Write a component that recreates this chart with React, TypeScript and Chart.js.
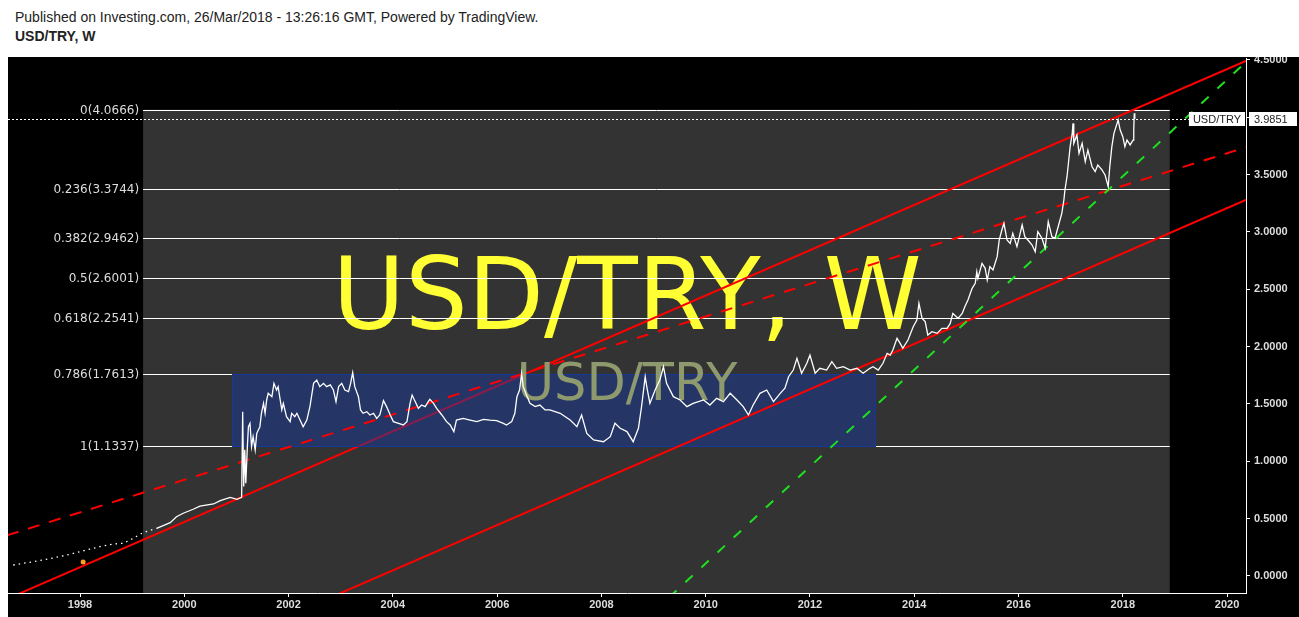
import React, { useEffect, useRef } from "react";
import { Chart, registerables } from "chart.js";

Chart.register(...registerables);

const SYMBOL = "USD/TRY";
const INTERVAL = "W";
const LAST_PRICE = 3.9851;

// Axis ticks
const yearTicks = [1998, 2000, 2002, 2004, 2006, 2008, 2010, 2012, 2014, 2016, 2018, 2020];
const priceTicks = [0, 0.5, 1, 1.5, 2, 2.5, 3, 3.5, 4, 4.5];

// Fibonacci retracement levels
const fibRatios = ["0", "0.236", "0.382", "0.5", "0.618", "0.786", "1"];
const fibLevels = [4.0666, 3.3744, 2.9462, 2.6001, 2.2541, 1.7613, 1.1337];
const fibYears = [1999.21, 2018.9];

// Consolidation box
const boxYears = [2000.915, 2013.247];
const boxPrices = [1.1337, 1.7613];

// Trend lines (two anchors each)
const upperChannelYears = [1996.6, 2020.4];
const upperChannelPrices = [-0.2, 4.5];
const lowerChannelYears = [2002.8, 2020.4];
const lowerChannelPrices = [-0.188, 3.287];
const midChannelYears = [1996.6, 2020.4];
const midChannelPrices = [0.355, 3.744];
const fanYears = [2009.3, 2020.4];
const fanPrices = [-0.186, 4.498];

// Event marker
const markerYears = [1998.06];
const markerPrices = [0.122];

// Sparse early quotes
const earlyYears = [1996.72, 1997.3, 1997.75, 1998.0, 1998.38, 1998.64, 1998.83, 1999.02, 1999.21, 1999.47];
const earlyPrices = [0.096, 0.14, 0.183, 0.212, 0.256, 0.279, 0.285, 0.328, 0.378, 0.416];

// Weekly closes
const weekYears = [
  1999.47, 1999.73, 1999.85, 1999.98, 2000.17, 2000.3, 2000.56, 2000.69, 2000.88, 2001.01, 2001.1, 2001.12,
  2001.14, 2001.16, 2001.18, 2001.21, 2001.23, 2001.26, 2001.29, 2001.32, 2001.36, 2001.39, 2001.45, 2001.48,
  2001.52, 2001.55, 2001.58, 2001.61, 2001.68, 2001.72, 2001.77, 2001.8, 2001.84, 2001.87, 2001.9, 2001.96,
  2002.03, 2002.06, 2002.12, 2002.16, 2002.22, 2002.28, 2002.35, 2002.41, 2002.44, 2002.48, 2002.54, 2002.6,
  2002.67, 2002.73, 2002.8, 2002.86, 2002.91, 2002.96, 2003.02, 2003.08, 2003.15, 2003.19, 2003.23, 2003.27,
  2003.34, 2003.38, 2003.43, 2003.5, 2003.56, 2003.63, 2003.69, 2003.75, 2003.82, 2003.88, 2003.95,
  2004.01, 2004.11, 2004.2, 2004.27, 2004.33, 2004.37, 2004.43, 2004.49, 2004.55, 2004.62, 2004.68, 2004.71,
  2004.78, 2004.84, 2004.94, 2005.03, 2005.1, 2005.17, 2005.22, 2005.35, 2005.48, 2005.61, 2005.74, 2005.86,
  2005.99, 2006.12, 2006.18, 2006.28, 2006.34, 2006.38, 2006.43, 2006.47, 2006.5, 2006.55, 2006.63, 2006.73,
  2006.82, 2006.92,
  2007.01, 2007.21, 2007.4, 2007.53, 2007.62, 2007.72, 2007.85, 2008.04, 2008.17, 2008.26, 2008.36, 2008.49,
  2008.61, 2008.71, 2008.77, 2008.84, 2008.87, 2008.93, 2009.03, 2009.12, 2009.19, 2009.25, 2009.38, 2009.51,
  2009.64, 2009.76, 2009.96, 2010.08, 2010.21, 2010.34, 2010.47, 2010.6, 2010.72, 2010.82, 2010.91,
  2011.04, 2011.17, 2011.3, 2011.43, 2011.52, 2011.59, 2011.68, 2011.75, 2011.84, 2011.94, 2012.0, 2012.1,
  2012.19, 2012.32, 2012.42, 2012.51, 2012.64, 2012.77, 2012.9, 2013.02, 2013.15, 2013.21, 2013.31, 2013.4,
  2013.48, 2013.54, 2013.59, 2013.67, 2013.73, 2013.78, 2013.88, 2013.98,
  2014.05, 2014.09, 2014.15, 2014.21, 2014.26, 2014.34, 2014.44, 2014.53, 2014.63, 2014.69, 2014.74, 2014.84,
  2014.92, 2014.97, 2015.03, 2015.11, 2015.17, 2015.2, 2015.22, 2015.3, 2015.36, 2015.4, 2015.45, 2015.51,
  2015.59, 2015.63, 2015.68, 2015.72, 2015.78, 2015.84, 2015.89, 2015.97, 2016.07, 2016.12, 2016.18, 2016.26,
  2016.32, 2016.37, 2016.45, 2016.51, 2016.57, 2016.64, 2016.7, 2016.76, 2016.83, 2016.87, 2016.89, 2016.93,
  2016.95, 2016.99,
  2017.03, 2017.045, 2017.06, 2017.12, 2017.16, 2017.22, 2017.28, 2017.33, 2017.41, 2017.47, 2017.52, 2017.6,
  2017.66, 2017.72, 2017.75, 2017.79, 2017.83, 2017.89, 2017.91, 2017.95, 2018.0, 2018.04, 2018.08, 2018.14,
  2018.2, 2018.21, 2018.22, 2018.23,
];
const weekPrices = [
  0.416, 0.465, 0.517, 0.547, 0.582, 0.61, 0.628, 0.657, 0.686, 0.669, 0.686, 1.433,
  0.78, 1.1, 0.808, 1.128, 1.302, 1.331, 1.128, 1.215, 1.099, 1.244, 1.302, 1.419,
  1.506, 1.419, 1.535, 1.593, 1.564, 1.68, 1.622, 1.651, 1.535, 1.448, 1.506, 1.39,
  1.346, 1.419, 1.39, 1.419, 1.36, 1.302, 1.36, 1.477, 1.564, 1.68, 1.709, 1.651,
  1.68, 1.651, 1.666, 1.622, 1.52, 1.651, 1.68, 1.622, 1.608, 1.68, 1.773, 1.651,
  1.564, 1.448, 1.419, 1.433, 1.404, 1.419, 1.375, 1.404, 1.529, 1.477, 1.404,
  1.346, 1.331, 1.317, 1.346, 1.506, 1.578, 1.52, 1.462, 1.491, 1.477, 1.52, 1.541,
  1.506, 1.462, 1.404, 1.346, 1.317, 1.259, 1.36, 1.375, 1.36, 1.346, 1.366, 1.36,
  1.355, 1.331, 1.317, 1.346, 1.419, 1.564, 1.622, 1.767, 1.651, 1.593, 1.506, 1.477,
  1.491, 1.448,
  1.448, 1.419, 1.36, 1.302, 1.404, 1.244, 1.186, 1.171, 1.215, 1.332, 1.288, 1.259,
  1.171, 1.288, 1.477, 1.738, 1.651, 1.506, 1.622, 1.709, 1.825, 1.68, 1.564, 1.535,
  1.477, 1.506, 1.535, 1.491, 1.549, 1.52, 1.593, 1.535, 1.477, 1.404, 1.491,
  1.593, 1.622, 1.52, 1.593, 1.637, 1.738, 1.796, 1.898, 1.768, 1.855, 1.927, 1.768,
  1.811, 1.796, 1.869, 1.811, 1.825, 1.796, 1.811, 1.768, 1.811, 1.825, 1.796, 1.855,
  1.942, 1.927, 1.971, 2.073, 2.029, 1.986, 2.058, 2.174,
  2.232, 2.378, 2.247, 2.218, 2.102, 2.131, 2.116, 2.16, 2.16, 2.203, 2.29, 2.247,
  2.29, 2.348, 2.407, 2.509, 2.552, 2.654, 2.596, 2.727, 2.683, 2.581, 2.698, 2.669,
  2.785, 2.93, 3.017, 3.076, 2.93, 2.901, 2.988, 2.872, 3.061, 2.959, 2.93, 2.886,
  2.828, 3.003, 2.945, 2.858, 3.09, 2.959, 2.945, 3.046, 3.163, 3.279, 3.366, 3.482,
  3.569, 3.744,
  3.86, 3.947, 3.773, 3.846, 3.686, 3.773, 3.613, 3.715, 3.569, 3.526, 3.584, 3.541,
  3.497, 3.395, 3.569, 3.744, 3.86, 3.947, 3.977, 3.889, 3.831, 3.744, 3.802, 3.759,
  3.802, 3.889, 4.035, LAST_PRICE,
];

const toPoints = (xs: number[], ys: number[]) => xs.map((x, i) => ({ x, y: ys[i] }));

const AXIS_FONT = { family: "'Liberation Sans', Arial, sans-serif", size: 11, weight: "bold" as const };

const overlays = {
  id: "overlays",
  beforeDatasetsDraw(chart: any) {
    const { ctx, chartArea: a, scales } = chart;
    const x = scales.x;
    const y = scales.y;
    ctx.save();
    ctx.beginPath();
    ctx.rect(a.left, a.top, a.right - a.left, a.bottom - a.top);
    ctx.clip();

    const gx0 = x.getPixelForValue(fibYears[0]);
    const gx1 = x.getPixelForValue(fibYears[1]);
    const gTop = y.getPixelForValue(fibLevels[0]);
    ctx.fillStyle = "#333333";
    ctx.fillRect(gx0, gTop, gx1 - gx0, a.bottom - gTop);

    // symbol watermark
    const cx = (a.left + a.right) / 2;
    const cy = (a.top + a.bottom) / 2;
    ctx.fillStyle = "#ffff33";
    ctx.font = "99px 'DejaVu Sans'";
    ctx.textAlign = "center";
    ctx.textBaseline = "alphabetic";
    ctx.fillText(`${SYMBOL}, ${INTERVAL}`, cx, cy + 3.5);

    // retracement levels
    ctx.strokeStyle = "#ffffff";
    ctx.lineWidth = 1;
    ctx.font = "12px 'DejaVu Sans'";
    ctx.textAlign = "right";
    ctx.textBaseline = "middle";
    ctx.fillStyle = "#dddddd";
    fibLevels.forEach((lvl, i) => {
      const py = Math.round(y.getPixelForValue(lvl)) + 0.5;
      ctx.beginPath();
      ctx.moveTo(gx0, py);
      ctx.lineTo(gx1, py);
      ctx.stroke();
      ctx.fillText(`${fibRatios[i]}(${lvl.toFixed(4)})`, gx0 - 4, py);
    });
    ctx.restore();
  },
  afterDatasetDraw(chart: any, args: any) {
    if (args.index !== 0) return;
    const { ctx, chartArea: a, scales } = chart;
    const x = scales.x;
    const y = scales.y;
    ctx.save();
    ctx.beginPath();
    ctx.rect(a.left, a.top, a.right - a.left, a.bottom - a.top);
    ctx.clip();
    const bx0 = Math.round(x.getPixelForValue(boxYears[0])) + 0.5;
    const bx1 = Math.round(x.getPixelForValue(boxYears[1])) + 0.5;
    const by0 = Math.round(y.getPixelForValue(boxPrices[1])) + 0.5;
    const by1 = Math.round(y.getPixelForValue(boxPrices[0])) + 0.5;
    ctx.fillStyle = "rgba(21, 56, 153, 0.5)";
    ctx.fillRect(bx0, by0, bx1 - bx0, by1 - by0);
    ctx.strokeStyle = "rgb(21, 56, 153)";
    ctx.lineWidth = 1;
    ctx.strokeRect(bx0, by0, bx1 - bx0, by1 - by0);

    const cx = (a.left + a.right) / 2;
    const cy = (a.top + a.bottom) / 2;
    ctx.fillStyle = "#8e9a6d";
    ctx.font = "51px 'DejaVu Sans'";
    ctx.textAlign = "center";
    ctx.textBaseline = "alphabetic";
    ctx.fillText(SYMBOL, cx, cy + 74.5);
    ctx.restore();
  },
  afterDraw(chart: any) {
    const { ctx, chartArea: a, scales } = chart;
    const y = scales.y;
    const py = Math.round(y.getPixelForValue(LAST_PRICE)) + 0.5;
    ctx.save();
    ctx.font = "11px 'Liberation Sans', Arial, sans-serif";
    const nameW = ctx.measureText(SYMBOL).width + 8;
    const boxR = a.right - 1;
    const boxL = boxR - nameW;

    ctx.strokeStyle = "#ffffff";
    ctx.lineWidth = 1;
    ctx.setLineDash([2, 2]);
    ctx.beginPath();
    ctx.moveTo(a.left, py);
    ctx.lineTo(boxL, py);
    ctx.stroke();
    ctx.setLineDash([]);

    ctx.fillStyle = "#ffffff";
    ctx.fillRect(boxL, py - 7.5, nameW, 14);
    ctx.fillRect(a.right + 3, py - 7.5, chart.width - a.right - 5, 14);

    ctx.fillStyle = "#222222";
    ctx.textBaseline = "middle";
    ctx.textAlign = "center";
    ctx.fillText(SYMBOL, boxL + nameW / 2, py);
    ctx.textAlign = "left";
    ctx.fillText(LAST_PRICE.toFixed(4), a.right + 8, py);
    ctx.restore();
  },
};

export default function App() {
  const canvasRef = useRef<HTMLCanvasElement | null>(null);

  useEffect(() => {
    const canvas = canvasRef.current;
    if (!canvas) return;
    const chart = new Chart(canvas, {
      type: "line",
      data: {
        datasets: [
          {
            data: toPoints(upperChannelYears, upperChannelPrices),
            borderColor: "#ff0000",
            borderWidth: 2,
            pointRadius: 0,
            order: 7,
            clip: 0,
          },
          {
            data: toPoints(lowerChannelYears, lowerChannelPrices),
            borderColor: "#ff0000",
            borderWidth: 2,
            pointRadius: 0,
            order: 6,
            clip: 0,
          },
          {
            data: toPoints(midChannelYears, midChannelPrices),
            borderColor: "#ff0000",
            borderWidth: 2,
            borderDash: [12, 10],
            pointRadius: 0,
            order: 5,
            clip: 0,
          },
          {
            data: toPoints(fanYears, fanPrices),
            borderColor: "#1fe01f",
            borderWidth: 2,
            borderDash: [10, 12],
            pointRadius: 0,
            order: 4,
            clip: 0,
          },
          {
            data: toPoints(earlyYears, earlyPrices),
            borderColor: "#ffffff",
            borderWidth: 1.3,
            borderDash: [1.5, 4],
            pointRadius: 0,
            order: 3,
            clip: 0,
          },
          {
            data: toPoints(weekYears, weekPrices),
            borderColor: "#ffffff",
            borderWidth: 1.3,
            pointRadius: 0,
            order: 2,
            clip: 0,
          },
          {
            data: toPoints(markerYears, markerPrices),
            showLine: false,
            pointRadius: 2.5,
            pointHoverRadius: 2.5,
            pointBackgroundColor: "#ffa020",
            pointBorderWidth: 0,
            order: 1,
            clip: 0,
          },
        ],
      },
      options: {
        responsive: false,
        animation: false,
        events: [],
        layout: { autoPadding: false, padding: { top: 1, left: 0, right: 0, bottom: 0 } },
        elements: { line: { tension: 0 }, point: { hoverRadius: 0 } },
        plugins: { legend: { display: false }, tooltip: { enabled: false } },
        scales: {
          x: {
            type: "linear",
            min: 1996.6191,
            max: 2020.3628,
            afterBuildTicks: (s: any) => {
              s.ticks = yearTicks.map((v) => ({ value: v }));
            },
            afterFit: (s: any) => {
              s.height = 24;
              s.paddingLeft = 0;
              s.paddingRight = 0;
            },
            ticks: {
              color: "#dddddd",
              font: AXIS_FONT,
              padding: 1,
              maxRotation: 0,
              autoSkip: false,
              callback: (v: any) => String(v),
            },
            grid: { drawOnChartArea: false, drawTicks: true, tickLength: 4, color: "#ffffff" },
            border: { display: true, color: "#ffffff", width: 1 },
          },
          y: {
            type: "linear",
            position: "right",
            min: -0.1483,
            max: 4.5173,
            afterBuildTicks: (s: any) => {
              s.ticks = priceTicks.map((v) => ({ value: v }));
            },
            afterFit: (s: any) => {
              s.width = 53;
              s.paddingTop = 0;
              s.paddingBottom = 0;
            },
            ticks: {
              color: "#dddddd",
              font: AXIS_FONT,
              padding: 4,
              autoSkip: false,
              callback: (v: any) => Number(v).toFixed(4),
            },
            grid: { drawOnChartArea: false, drawTicks: true, tickLength: 4, color: "#ffffff" },
            border: { display: true, color: "#ffffff", width: 1 },
          },
        },
      },
      plugins: [overlays],
    } as any);
    return () => chart.destroy();
  }, []);

  return (
    <div
      style={{
        position: "absolute",
        left: 0,
        top: 0,
        width: 1299,
        height: 617,
        background: "#ffffff",
        overflow: "hidden",
        fontFamily: "'Liberation Sans', Arial, sans-serif",
        color: "#222222",
      }}
    >
      <div style={{ position: "absolute", left: 15, top: 10, fontSize: 14, lineHeight: "15px", whiteSpace: "nowrap" }}>
        Published on Investing.com, 26/Mar/2018 - 13:26:16 GMT, Powered by TradingView.
      </div>
      <div
        style={{
          position: "absolute",
          left: 15,
          top: 29,
          fontSize: 14,
          lineHeight: "15px",
          fontWeight: "bold",
          whiteSpace: "nowrap",
        }}
      >
        {SYMBOL}, {INTERVAL}
      </div>
      <canvas
        ref={canvasRef}
        width={1291}
        height={560}
        style={{ position: "absolute", left: 8, top: 57, width: 1291, height: 560, background: "#000000" }}
      />
    </div>
  );
}
